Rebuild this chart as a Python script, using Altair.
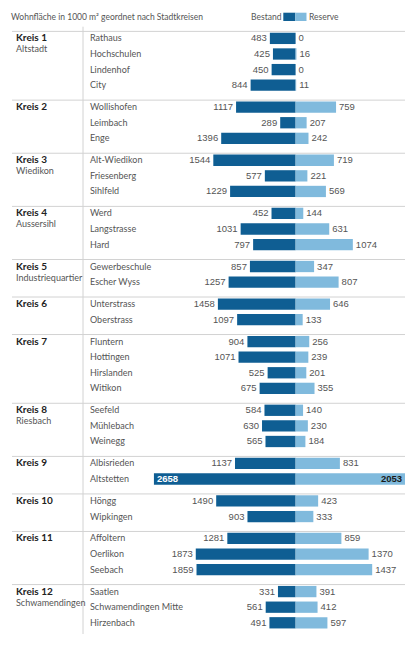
import altair as alt
import pandas as pd

# ---------------- data ----------------
titel = "Wohnfläche in 1000 m² geordnet nach Stadtkreisen"
serien = ["Bestand", "Reserve"]
farben = ["#0f5e93", "#80badd"]

kreise = ["Kreis 1", "Kreis 2", "Kreis 3", "Kreis 4", "Kreis 5", "Kreis 6",
          "Kreis 7", "Kreis 8", "Kreis 9", "Kreis 10", "Kreis 11", "Kreis 12"]
kreis_namen = ["Altstadt", "", "Wiedikon", "Aussersihl", "Industriequartier", "",
               "", "Riesbach", "", "", "", "Schwamendingen"]

quartiere = ["Rathaus", "Hochschulen", "Lindenhof", "City",
             "Wollishofen", "Leimbach", "Enge",
             "Alt-Wiedikon", "Friesenberg", "Sihlfeld",
             "Werd", "Langstrasse", "Hard",
             "Gewerbeschule", "Escher Wyss",
             "Unterstrass", "Oberstrass",
             "Fluntern", "Hottingen", "Hirslanden", "Witikon",
             "Seefeld", "Mühlebach", "Weinegg",
             "Albisrieden", "Altstetten",
             "Höngg", "Wipkingen",
             "Affoltern", "Oerlikon", "Seebach",
             "Saatlen", "Schwamendingen Mitte", "Hirzenbach"]
quartier_kreis = [1, 1, 1, 1, 2, 2, 2, 3, 3, 3, 4, 4, 4, 5, 5, 6, 6,
                  7, 7, 7, 7, 8, 8, 8, 9, 9, 10, 10, 11, 11, 11, 12, 12, 12]
bestand = [483, 425, 450, 844, 1117, 289, 1396, 1544, 577, 1229, 452, 1031, 797,
           857, 1257, 1458, 1097, 904, 1071, 525, 675, 584, 630, 565, 1137, 2658,
           1490, 903, 1281, 1873, 1859, 331, 561, 491]
reserve = [0, 16, 0, 11, 759, 207, 242, 719, 221, 569, 144, 631, 1074,
           347, 807, 646, 133, 256, 239, 201, 355, 140, 230, 184, 831, 2053,
           423, 333, 859, 1370, 1437, 391, 412, 597]

# ---------------- layout ----------------
W, H = 397, 626
ROW = 15.86         # px per row
GAP = 6.41          # extra px between districts
TOP = 25.8          # px of first row centre
CENTER = 287.6      # px of the zero line
PX_PER_UNIT = 0.0533

NAME_FONT = "Lato, Liberation Sans, sans-serif"
NUM_FONT = "Liberation Sans, Arial, sans-serif"
GREY = "#555555"
LINE = "#d2d2d2"

rows = pd.DataFrame({
    "quartier": quartiere,
    "kreis": quartier_kreis,
    "Bestand": bestand,
    "Reserve": reserve,
})
rows["order"] = range(len(rows))
rows["pos"] = rows["order"] + (rows["kreis"] - 1) * GAP / ROW
rows["innen"] = rows["Bestand"] > 2000

long = rows.melt(id_vars=["quartier", "pos", "order"], value_vars=serien,
                 var_name="serie", value_name="wert")
long["signed"] = long.apply(lambda r: -r["wert"] if r["serie"] == "Bestand" else r["wert"], axis=1)

kr = rows.groupby("kreis", as_index=False)["pos"].min()
kr["name"] = [kreise[k - 1] for k in kr["kreis"]]
kr["sub"] = [kreis_namen[k - 1] for k in kr["kreis"]]

xscale = alt.Scale(domain=[-CENTER / PX_PER_UNIT, (W - CENTER) / PX_PER_UNIT], nice=False, zero=False)
yscale = alt.Scale(domain=[-TOP / ROW, (H - TOP) / ROW], nice=False, zero=False, reverse=True)
cscale = alt.Scale(domain=serien, range=farben)

Y = alt.Y("pos:Q", scale=yscale, axis=None)

# separators & vertical line
seps = alt.Chart(kr).mark_rule(color=LINE, strokeWidth=1, yOffset=-7).encode(
    y=Y, x=alt.value(4), x2=alt.value(W))
vline = alt.Chart(pd.DataFrame({"a": [0]})).mark_rule(color=LINE, strokeWidth=1).encode(
    x=alt.value(75), y=alt.value(18.7), y2=alt.value(H))

bars = alt.Chart(long).mark_bar(orient="horizontal", size=11.3).encode(
    x=alt.X("signed:Q", scale=xscale, axis=None),
    x2=alt.datum(0),
    y=Y,
    color=alt.Color("serie:N", scale=cscale, legend=None),
)

out = rows[~rows["innen"]]
inn = rows[rows["innen"]]

lab_b = alt.Chart(out).transform_calculate(neg="-datum.Bestand").mark_text(
    align="right", baseline="middle", dx=-3, font=NUM_FONT, fontSize=9.5, color=GREY).encode(
    x=alt.X("neg:Q", scale=xscale, axis=None), y=Y, text="Bestand:Q")
lab_r = alt.Chart(out).mark_text(
    align="left", baseline="middle", dx=3, font=NUM_FONT, fontSize=9.5, color=GREY).encode(
    x=alt.X("Reserve:Q", scale=xscale, axis=None), y=Y, text="Reserve:Q")
lab_bi = alt.Chart(inn).transform_calculate(neg="-datum.Bestand").mark_text(
    align="left", baseline="middle", dx=3, font=NUM_FONT, fontSize=9.5, fontWeight="bold",
    color="white").encode(
    x=alt.X("neg:Q", scale=xscale, axis=None), y=Y, text="Bestand:Q")
lab_ri = alt.Chart(inn).mark_text(
    align="right", baseline="middle", dx=-3, font=NUM_FONT, fontSize=9.5, fontWeight="bold",
    color="#1a1a1a").encode(
    x=alt.X("Reserve:Q", scale=xscale, axis=None), y=Y, text="Reserve:Q")

qlab = alt.Chart(rows).mark_text(
    align="left", baseline="middle", font=NAME_FONT, fontSize=9, color=GREY).encode(
    x=alt.value(82), y=Y, text="quartier:N")

klab = alt.Chart(kr).mark_text(
    align="left", baseline="middle", font=NAME_FONT, fontSize=10, fontWeight="bold",
    color="#222222").encode(x=alt.value(8), y=Y, text="name:N")
ksub = alt.Chart(kr).mark_text(
    align="left", baseline="middle", dy=11, font=NAME_FONT, fontSize=9, color=GREY).encode(
    x=alt.value(8), y=Y, text="sub:N")

head = alt.Chart(pd.DataFrame({"t": [titel]})).mark_text(
    align="left", baseline="middle", font=NAME_FONT, fontSize=8.5, color=GREY).encode(
    x=alt.value(3), y=alt.value(8.5), text="t:N")

leg_b_rect = alt.Chart(pd.DataFrame({"serie": [serien[0]]})).mark_rect().encode(
    x=alt.value(275.3), x2=alt.value(287.3), y=alt.value(4.7), y2=alt.value(13),
    color=alt.Color("serie:N", scale=cscale, legend=None),
)
leg_r_rect = alt.Chart(pd.DataFrame({"serie": [serien[1]]})).mark_rect().encode(
    x=alt.value(287.3), x2=alt.value(298.5), y=alt.value(4.7), y2=alt.value(13),
    color=alt.Color("serie:N", scale=cscale, legend=None),
)
leg_b = alt.Chart(pd.DataFrame({"t": [serien[0]]})).mark_text(
    align="right", baseline="middle", font=NAME_FONT, fontSize=8.5, color=GREY).encode(
    x=alt.value(273.5), y=alt.value(8.5), text="t:N")
leg_r = alt.Chart(pd.DataFrame({"t": [serien[1]]})).mark_text(
    align="left", baseline="middle", font=NAME_FONT, fontSize=8.5, color=GREY).encode(
    x=alt.value(301), y=alt.value(8.5), text="t:N")

chart = alt.layer(
    seps, vline, bars, lab_b, lab_r, lab_bi, lab_ri, qlab, klab, ksub,
    head, leg_b_rect, leg_r_rect, leg_b, leg_r,
).properties(
    width=W, height=H,
    autosize=alt.AutoSizeParams(type="none"),
    padding=0,
    background="white",
).configure_view(stroke=None)

chart.save("out.html", embed_options={"renderer": "svg", "actions": False})
